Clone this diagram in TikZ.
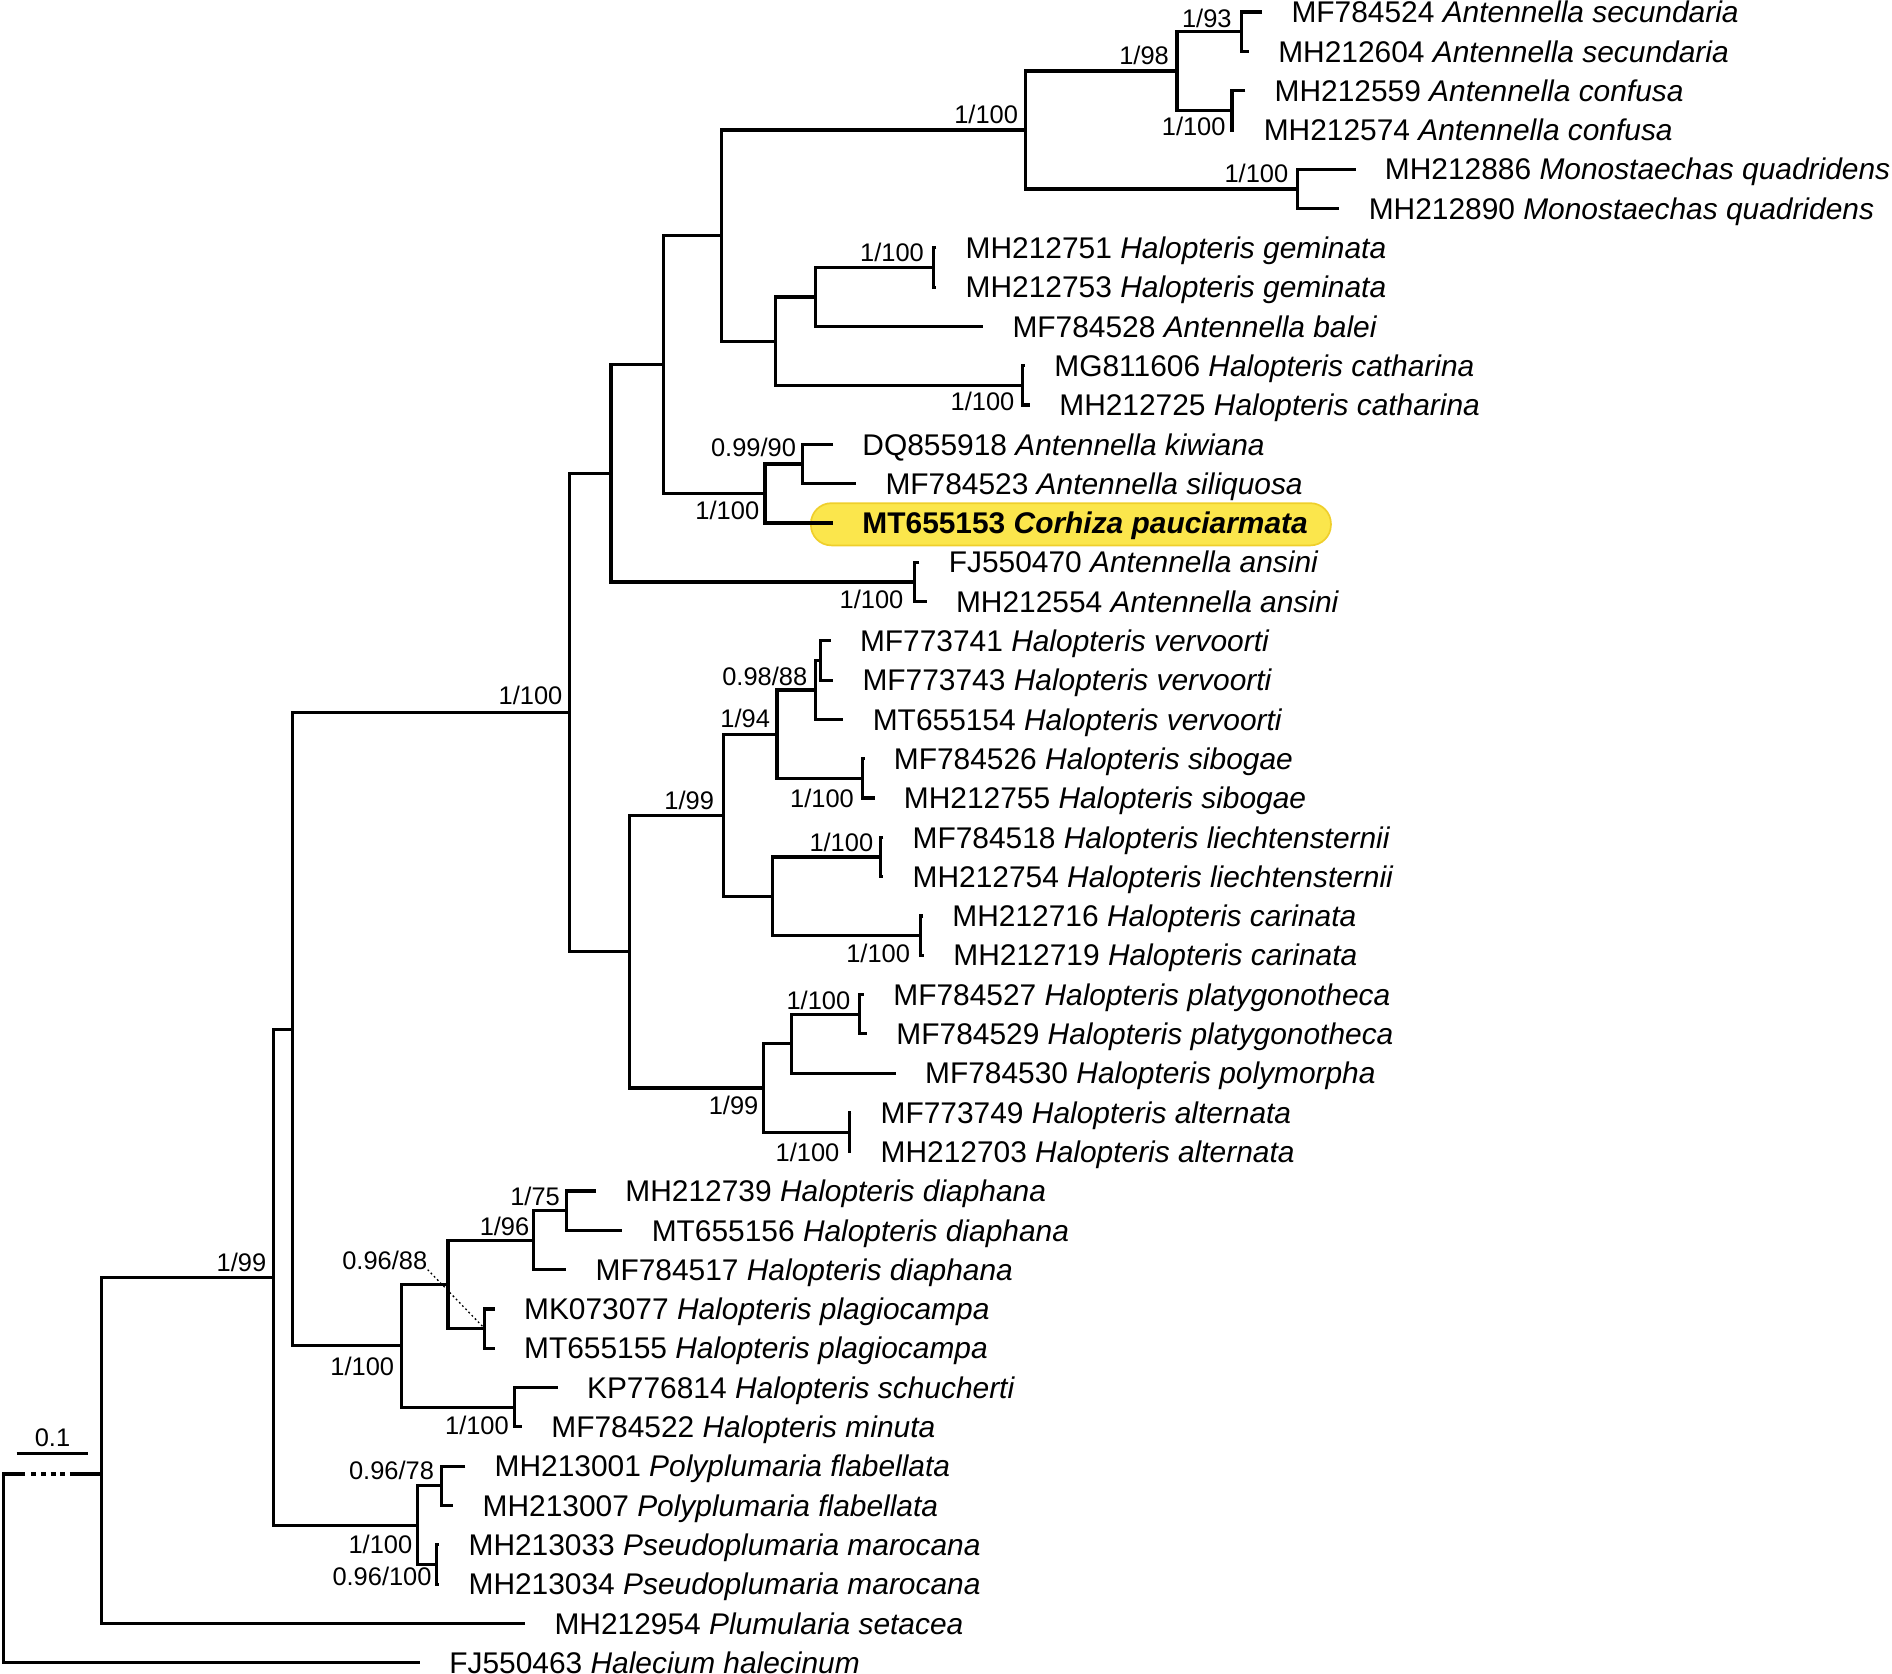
\documentclass[tikz,border=0pt]{standalone}
\usepackage{fontspec}
\setmainfont{Liberation Sans}
\usetikzlibrary{positioning,calc}
\definecolor{hilite}{HTML}{FBE64C}
\definecolor{hiliteedge}{HTML}{EFCF2C}
\tikzset{
  branch/.style={line width=1.5pt, draw=black},
  taxon/.style={inner sep=0pt, anchor=west, font=\fontsize{14.1}{16}\selectfont,
    text height=10.1pt, text depth=0pt},
  support/.style={inner sep=0pt, anchor=east, font=\fontsize{12}{14}\selectfont,
    text height=8.6pt, text depth=0pt},
  hilitebox/.style={fill=hilite, draw=hiliteedge, line width=0.8pt, rounded corners=3.4mm},
  leader/.style={line width=0.6pt, dash pattern=on 0.3mm off 0.45mm},
  rootgap/.style={branch, dash pattern=on 0.8mm off 0.8mm}
}

\begin{document}
\begin{tikzpicture}[x=0.2mm,y=-0.2mm]
  \useasboundingbox (0,0) rectangle (1568,1387);
  % highlighted new species
  \draw[hilitebox] (672,417) rectangle (1103,452);

  % tips and their labels
  \foreach \i/\xt/\accn/\spname in {
      1/1046/MF784524/Antennella secundaria, 2/1035/MH212604/Antennella secundaria,
      3/1032/MH212559/Antennella confusa, 4/1023/MH212574/Antennella confusa,
      5/1123.4/MH212886/Monostaechas quadridens, 6/1110/MH212890/Monostaechas quadridens,
      7/776/MH212751/Halopteris geminata, 8/776/MH212753/Halopteris geminata,
      9/814.8/MF784528/Antennella balei,
      10/849.5/MG811606/Halopteris catharina, 11/853.6/MH212725/Halopteris catharina,
      12/690.4/DQ855918/Antennella kiwiana, 13/709.5/MF784523/Antennella siliquosa,
      15/762/FJ550470/Antennella ansini, 16/768/MH212554/Antennella ansini,
      17/688.4/MF773741/Halopteris vervoorti, 18/690.5/MF773743/Halopteris vervoorti,
      19/699/MT655154/Halopteris vervoorti,
      20/716.5/MF784526/Halopteris sibogae, 21/724.8/MH212755/Halopteris sibogae,
      22/732/MF784518/Halopteris liechtensternii, 23/732/MH212754/Halopteris liechtensternii,
      24/765/MH212716/Halopteris carinata, 25/765.8/MH212719/Halopteris carinata,
      26/716/MF784527/Halopteris platygonotheca, 27/718.6/MF784529/Halopteris platygonotheca,
      28/742.4/MF784530/Halopteris polymorpha,
      29/705.5/MF773749/Halopteris alternata, 30/705.5/MH212703/Halopteris alternata,
      31/494/MH212739/Halopteris diaphana, 32/515.8/MT655156/Halopteris diaphana,
      33/469.3/MF784517/Halopteris diaphana,
      34/410/MK073077/Halopteris plagiocampa, 35/410/MT655155/Halopteris plagiocampa,
      36/462.2/KP776814/Halopteris schucherti, 37/432.6/MF784522/Halopteris minuta,
      38/385.6/MH213001/Polyplumaria flabellata, 39/375.7/MH213007/Polyplumaria flabellata,
      40/364/MH213033/Pseudoplumaria marocana, 41/364/MH213034/Pseudoplumaria marocana,
      42/435.2/MH212954/Plumularia setacea, 43/348/FJ550463/Halecium halecinum} {
    \coordinate (t\i) at (\xt,{10+(\i-1)*32.57});
    \node[taxon, right=4.8mm of t\i] (l\i) {\accn\ \textit{\spname}};
  }
  \coordinate (t14) at (690.4,433.4);
  \node[taxon, font=\fontsize{14.1}{16}\selectfont\bfseries, right=4.8mm of t14] (l14)
    {MT655153 \textit{Corhiza pauciarmata}};

  % internal nodes
  \coordinate (n93) at (1029,26.3);    \coordinate (nconf) at (1021,91.4);
  \coordinate (n98) at (975.5,58.8);   \coordinate (nmono) at (1075,156.6);
  \coordinate (ntop) at (850,107.7);   \coordinate (ngem) at (773.7,221.7);
  \coordinate (nbal) at (675.5,246.1); \coordinate (ncat) at (847.4,319.4);
  \coordinate (ngc) at (643,282.8);    \coordinate (nup) at (598,195.2);
  \coordinate (nkiw) at (665,384.5);   \coordinate (ncor) at (634,409);
  \coordinate (nant) at (550,302.1);   \coordinate (nans) at (758,482.3);
  \coordinate (nC) at (506.4,392.2);   \coordinate (nver) at (680,547.4);
  \coordinate (nver3) at (675.7,571.8);\coordinate (nsib) at (714.6,645.1);
  \coordinate (nvs) at (644,608.5);    \coordinate (nlie) at (729.8,710.3);
  \coordinate (ncar) at (762.6,775.4); \coordinate (nlc) at (640,742.8);
  \coordinate (nJ) at (599.6,675.6);   \coordinate (npla) at (712,840.5);
  \coordinate (npp) at (655.7,865);    \coordinate (nalt) at (703.8,938.3);
  \coordinate (nO) at (633,901.6);     \coordinate (nI) at (522,788.6);
  \coordinate (nB) at (471.9,590.4);   \coordinate (ndia) at (469.3,1003.4);
  \coordinate (ndia3) at (442.3,1027.8);\coordinate (nplg) at (401.7,1101.1);
  \coordinate (nR) at (371.3,1064.5);  \coordinate (nsch) at (426.2,1166.3);
  \coordinate (nQ) at (333,1115.4);    \coordinate (nA) at (242.6,852.9);
  \coordinate (npoly) at (365.8,1231.4);\coordinate (npse) at (361.8,1296.5);
  \coordinate (nV) at (346,1264);      \coordinate (nhal) at (226.5,1058.5);
  \coordinate (nplu) at (84.3,1221.6); \coordinate (nroot) at (2.8,1221.6);

  % branches
  \draw[branch] (t1) -| (n93) |- (t2);
  \draw[branch] (t3) -| (nconf) |- (t4);
  \draw[branch] (n93) -| (n98) |- (nconf);
  \draw[branch] (t5) -| (nmono) |- (t6);
  \draw[branch] (n98) -| (ntop) |- (nmono);
  \draw[branch] (t7) -| (ngem) |- (t8);
  \draw[branch] (ngem) -| (nbal) |- (t9);
  \draw[branch] (t10) -| (ncat) |- (t11);
  \draw[branch] (nbal) -| (ngc) |- (ncat);
  \draw[branch] (ntop) -| (nup) |- (ngc);
  \draw[branch] (t12) -| (nkiw) |- (t13);
  \draw[branch] (nkiw) -| (ncor) |- (t14);
  \draw[branch] (nup) -| (nant) |- (ncor);
  \draw[branch] (t15) -| (nans) |- (t16);
  \draw[branch] (nant) -| (nC) |- (nans);
  \draw[branch] (t17) -| (nver) |- (t18);
  \draw[branch] (nver) -| (nver3) |- (t19);
  \draw[branch] (t20) -| (nsib) |- (t21);
  \draw[branch] (nver3) -| (nvs) |- (nsib);
  \draw[branch] (t22) -| (nlie) |- (t23);
  \draw[branch] (t24) -| (ncar) |- (t25);
  \draw[branch] (nlie) -| (nlc) |- (ncar);
  \draw[branch] (nvs) -| (nJ) |- (nlc);
  \draw[branch] (t26) -| (npla) |- (t27);
  \draw[branch] (npla) -| (npp) |- (t28);
  \draw[branch] (t29) -| (nalt) |- (t30);
  \draw[branch] (npp) -| (nO) |- (nalt);
  \draw[branch] (nJ) -| (nI) |- (nO);
  \draw[branch] (nC) -| (nB) |- (nI);
  \draw[branch] (t31) -| (ndia) |- (t32);
  \draw[branch] (ndia) -| (ndia3) |- (t33);
  \draw[branch] (t34) -| (nplg) |- (t35);
  \draw[branch] (ndia3) -| (nR) |- (nplg);
  \draw[branch] (t36) -| (nsch) |- (t37);
  \draw[branch] (nR) -| (nQ) |- (nsch);
  \draw[branch] (nB) -| (nA) |- (nQ);
  \draw[branch] (t38) -| (npoly) |- (t39);
  \draw[branch] (t40) -| (npse) |- (t41);
  \draw[branch] (npoly) -| (nV) |- (npse);
  \draw[branch] (nA) -| (nhal) |- (nV);
  \draw[branch] (nhal) -| (nplu) |- (t42);
  % shortened root branch
  \draw[branch] ($(nroot)+(18,0)$) -- (nroot) |- (t43);
  \draw[rootgap] ($(nroot)+(23.2,0)$) -- ($(nplu)+(-30.3,0)$);
  \draw[branch] ($(nplu)+(-26.3,0)$) -- (nplu);

  % support values (posterior/bootstrap)
  \foreach \nm/\px/\py/\val in {
      1/1021/15/{1/93}, 2/969/46/{1/98}, 3/1016/105/{1/100}, 4/844/94.5/{1/100},
      5/1068/143.7/{1/100}, 6/766/209/{1/100}, 7/841/333/{1/100}, 8/660/371/{0.99/90},
      9/629.5/422.7/{1/100}, 10/749/496.6/{1/100}, 11/466.4/576/{1/100},
      12/669.3/560.8/{0.98/88}, 13/638.5/595.3/{1/94}, 14/592/663/{1/99},
      15/708/661.6/{1/100}, 16/724/698.4/{1/100}, 17/754.5/790/{1/100},
      18/705/829/{1/100}, 19/628.8/916/{1/99}, 20/696/955/{1/100},
      21/464.3/991.8/{1/75}, 22/439/1016.6/{1/96}, 23/354.4/1044.3/{0.96/88},
      24/327/1132.7/{1/100}, 25/422/1181/{1/100}, 26/360/1218.3/{0.96/78},
      27/342/1280/{1/100}, 28/358/1306.7/{0.96/100}, 29/221/1045.8/{1/99}} {
    \node[support] (s\nm) at (\px,\py) {\val};
  }
  \draw[leader] (s23.south east) -- (nplg);

  % scale bar
  \coordinate (sbl) at (13.8,1204.5);
  \coordinate (sbr) at (73.2,1204.5);
  \draw[branch] (sbl) -- (sbr);
  \node[support, above=1mm of $(sbl)!.5!(sbr)$] (scalelab) {0.1};
\end{tikzpicture}
\end{document}
